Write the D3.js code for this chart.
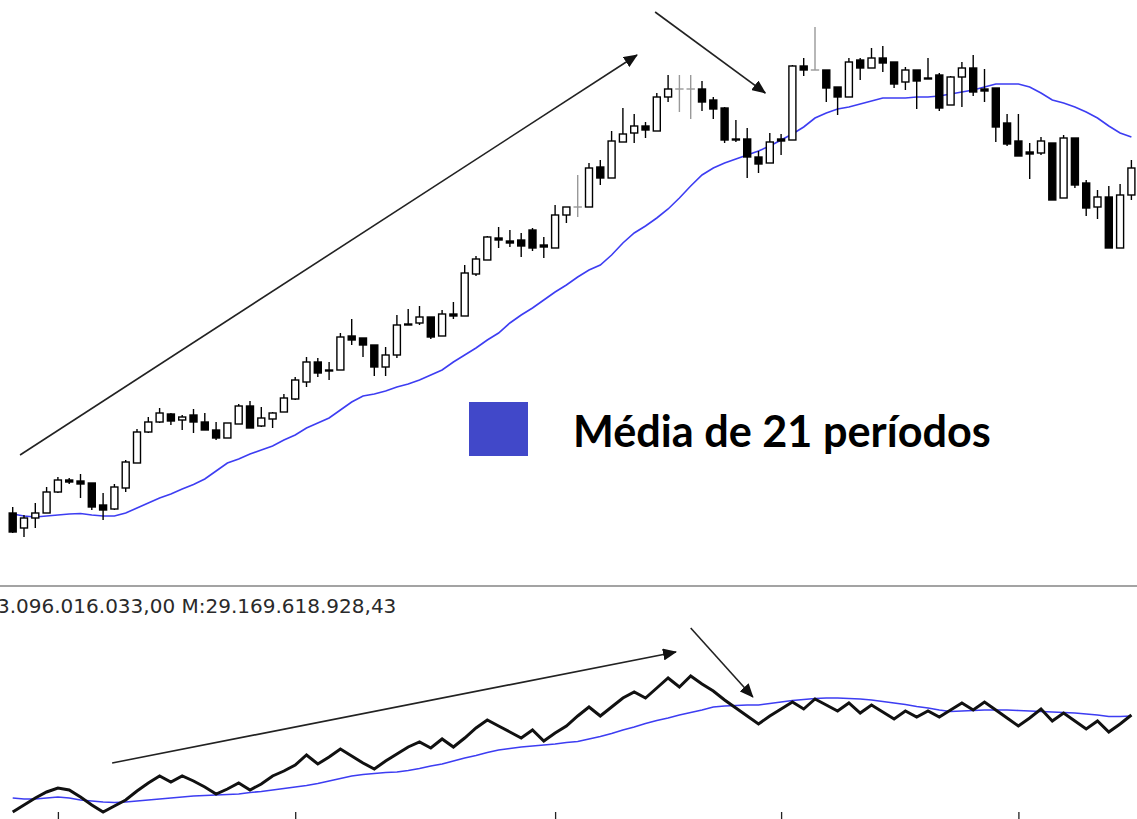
<!DOCTYPE html>
<html>
<head>
<meta charset="utf-8">
<script src="https://cdn.jsdelivr.net/npm/d3@7"></script>
<style>
  html, body { margin: 0; padding: 0; background: #fff; }
  svg { display: block; }
</style>
</head>
<body>
<div id="chart"></div>
<script>
// candle data (arbitrary price units), one entry per bar
const opens  = [87,72,82,87,108,120,119,117,95,91,112,137,168,178,186,180,185,178,170,162,
                176,194,174,181,188,201,218,238,230,230,264,262,255,233,245,276,277,283,264,286,
                284,326,340,362,359,360,370,355,352,385,393,393,433,422,458,467,474,469,503,511,
                511,511,500,492,461,461,443,437,461,460,534,530,530,513,503,540,532,542,538,518,
                530,522,525,495,523,532,511,512,477,459,448,447,457,402,462,417,393,403,352,405];
const highs  = [93,85,97,113,123,122,126,117,107,116,140,171,183,192,187,185,191,187,178,177,
                196,199,193,188,206,223,243,242,238,267,281,262,255,253,285,291,294,283,290,298,
                335,344,364,373,370,367,372,363,395,393,425,437,440,469,492,486,478,507,525,525,
                525,519,503,493,480,472,449,467,466,535,542,573,530,513,542,542,552,554,538,533,
                530,542,527,524,538,545,531,512,486,486,457,463,457,465,462,420,410,414,416,440];
const lows   = [67,63,72,87,107,116,102,90,80,90,108,137,167,177,175,170,167,170,160,162,
                176,172,173,172,188,200,213,223,220,230,255,243,224,224,242,275,275,261,264,281,
                284,324,340,352,353,343,349,342,352,377,383,393,415,422,458,457,462,469,498,488,
                481,489,481,457,458,422,427,437,445,460,524,530,498,485,503,520,532,528,512,510,
                491,521,489,495,493,504,498,458,454,444,421,445,400,402,412,384,381,352,352,400];
const closes = [68,82,87,108,120,118,116,93,90,113,138,168,178,187,179,183,178,170,162,177,
                194,172,182,187,202,220,238,227,229,263,260,255,233,245,275,275,283,263,286,284,
                327,341,363,360,357,354,352,353,385,393,393,432,422,459,466,474,470,503,511,511,
                511,498,491,460,460,443,436,458,459,534,530,530,512,503,538,532,542,537,516,530,
                519,521,492,523,532,508,509,473,456,444,446,459,400,462,415,392,403,352,405,432];

// 21-period moving average of price
const ma21 = [86,84,83,84,85,86,86.5,85,84,84,87,92,97,102,106,111,115.5,121,129,137,
              141,146,150,154,160,165,172,177,182,190,198,204,206,209,213,216,220,225,230,238,
              245,252,260,267,277,285,292,300,308,315,323,330,335,345,357,367,374,382,391,402,
              414,425,432,437,441,445,449,454,460,466,473,482,487,491,493,496,499,502,502,502,
              503,503,504,506,508,510,513,516,516,516,513,507,500,497,493,488,482,474,467,463];

// lower indicator (volume balance) and its average
const obv = [8,15,22,28,32,30,23,15,8,14,20,29,37,44,38,44,39,33,26,31,
             37,30,36,44,49,55,65,56,63,71,64,57,51,59,66,73,78,72,81,73,
             82,92,100,94,88,82,90,79,87,94,104,113,104,113,122,128,122,132,142,133,
             144,136,129,120,112,104,96,104,111,118,111,121,115,109,117,107,115,108,101,109,
             103,109,103,110,117,110,118,110,102,94,102,111,99,107,99,91,99,88,96,105];
const obvMa = [22,21,21,22,23,22,20,19,18,17.5,18,19,20,21,22,23,24,24.5,25,25.5,
               26,27.5,28.5,30,31.5,33,34.5,36.5,39,41.5,44,45.5,46.5,47.5,48,49.5,51.5,54,56,59,
               62,64.5,67.5,70,71.5,73,74,75,76,77.5,78.5,81,83.5,86.5,90,93,96.5,99.5,102,105,
               107.5,110,113,114,114.5,115,115,116.5,118,119.5,120.5,121.5,122,122,121.5,121,120,118.5,117,115.5,
               113.5,112,110,108.5,109,109.5,110,110,110,109.5,109,108.5,108,107.5,107,106,105,103.5,103.5,104];

const tickBars = [4, 25, 48, 68, 89];
const statusText = "3.096.016.033,00 M:29.169.618.928,43";
const legendText = "Média de 21 períodos";

// annotation arrows in [bar, value] units
const priceArrows = [[[0.65, 145], [55.25, 545]], [[56.85, 588], [66.6, 507]]];
const obvArrows = [[[8.8, 57], [58.7, 168]], [[60.0, 192], [65.5, 123]]];

const W = 1137, H = 819;
const candles = opens.map((o, i) => ({i, o, h: highs[i], l: lows[i], c: closes[i]}));

const svg = d3.select("#chart").append("svg")
  .attr("width", W).attr("height", H);

const defs = svg.append("defs");
defs.append("marker")
  .attr("id", "head")
  .attr("viewBox", "0 0 14 12")
  .attr("refX", 13).attr("refY", 6)
  .attr("markerWidth", 14).attr("markerHeight", 12)
  .attr("markerUnits", "userSpaceOnUse")
  .attr("orient", "auto")
  .append("path").attr("d", "M0,0L14,6L0,12Z").attr("fill", "#111");

const x = d3.scaleLinear().domain([0, 99]).range([12.7, 1131.4]);
const y = d3.scaleLinear().domain([0, 600]).range([600, 0]);
const y2 = d3.scaleLinear().domain([0, 150]).range([820, 670]);

// moving average on price
svg.append("path")
  .datum(ma21)
  .attr("fill", "none")
  .attr("stroke", "#3d3df2")
  .attr("stroke-width", 1.6)
  .attr("d", d3.line().x((d, i) => x(i)).y(d => y(d)));

// candles
const bw = 7;
const g = svg.append("g").selectAll("g").data(candles).enter().append("g");
g.append("line")
  .attr("x1", d => x(d.i)).attr("x2", d => x(d.i))
  .attr("y1", d => y(d.h)).attr("y2", d => y(d.l))
  .attr("stroke", d => d.o === d.c ? "#999" : "#000")
  .attr("stroke-width", 1.4);
g.append("rect")
  .attr("x", d => x(d.i) - bw / 2)
  .attr("y", d => y(Math.max(d.o, d.c)))
  .attr("width", bw)
  .attr("height", d => Math.max(0.01, Math.abs(y(d.o) - y(d.c))))
  .attr("fill", d => d.c > d.o ? "#fff" : (d.o === d.c ? "none" : "#000"))
  .attr("stroke", d => d.o === d.c ? "#999" : "#000")
  .attr("stroke-width", 1.4);

// arrows
function arrows(list, ys) {
  svg.append("g").selectAll("line").data(list).enter().append("line")
    .attr("x1", d => x(d[0][0])).attr("y1", d => ys(d[0][1]))
    .attr("x2", d => x(d[1][0])).attr("y2", d => ys(d[1][1]))
    .attr("stroke", "#222")
    .attr("stroke-width", 1.6)
    .attr("marker-end", "url(#head)");
}
arrows(priceArrows, y);

// legend
svg.append("rect")
  .attr("x", 469).attr("y", 402).attr("width", 59).attr("height", 54)
  .attr("fill", "#4148c9");
const leg = svg.append("text")
  .attr("x", 573).attr("y", 447)
  .attr("font-family", "Lato, 'Open Sans', sans-serif")
  .attr("font-weight", "bold")
  .attr("font-size", 41)
  .attr("fill", "#000")
  .text(legendText);
const lw = leg.node().getComputedTextLength();
leg.attr("font-size", 41 * 418 / lw);

// separator between panels
svg.append("line")
  .attr("x1", 0).attr("x2", W).attr("y1", 586).attr("y2", 586)
  .attr("stroke", "#a3a3a3").attr("stroke-width", 2);

svg.append("text")
  .attr("x", -3).attr("y", 613)
  .attr("font-family", "'DejaVu Sans', sans-serif")
  .attr("font-size", 20)
  .attr("fill", "#2a2a2a")
  .text(statusText);

// lower panel
svg.append("path")
  .datum(obvMa)
  .attr("fill", "none")
  .attr("stroke", "#3d3df2")
  .attr("stroke-width", 1.6)
  .attr("d", d3.line().x((d, i) => x(i)).y(d => y2(d)));

svg.append("path")
  .datum(obv)
  .attr("fill", "none")
  .attr("stroke", "#111")
  .attr("stroke-width", 3)
  .attr("stroke-linejoin", "miter")
  .attr("d", d3.line().x((d, i) => x(i)).y(d => y2(d)));

arrows(obvArrows, y2);

// time axis ticks at the bottom edge
const ax = svg.append("g")
  .attr("transform", "translate(0,812)")
  .call(d3.axisBottom(x).tickValues(tickBars).tickSize(9).tickFormat(""));
ax.select(".domain").remove();
ax.selectAll("line").attr("stroke", "#222").attr("stroke-width", 1.3);
</script>
</body>
</html>
